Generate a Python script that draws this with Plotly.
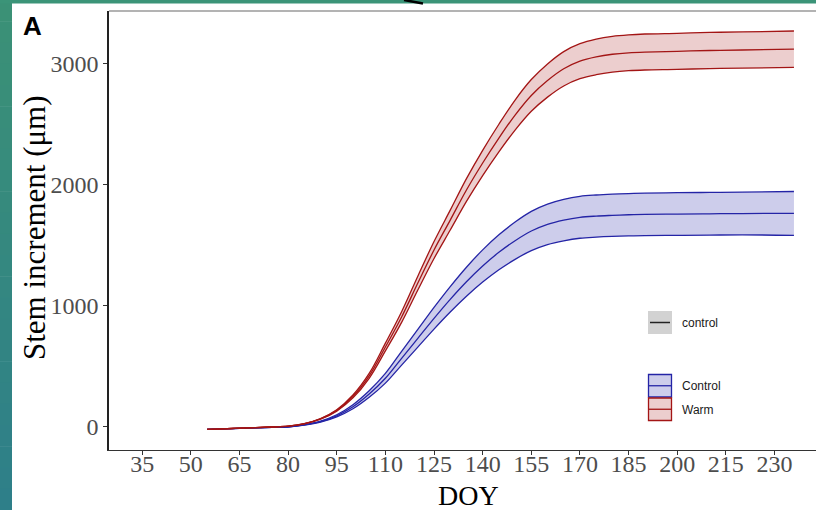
import plotly.graph_objects as go

# ---------------- data ----------------
doy = [55, 60, 65, 70, 75, 80, 85, 90, 95, 100, 105, 110, 115, 120, 125, 130,
       135, 140, 145, 150, 155, 160, 165, 170, 175, 180, 185, 190, 200, 210, 220, 236]

warm_mean = [-22, -17, -12, -7, -2, 5, 25, 65, 135, 250, 420, 658, 906, 1186, 1459, 1706,
             1954, 2177, 2383, 2573, 2735, 2858, 2955, 3018, 3053, 3075, 3087, 3093, 3099, 3106, 3110, 3118]
warm_upper = [-22, -17, -12, -7, -2, 5, 26, 68, 141, 262, 440, 690, 950, 1243, 1529, 1788,
              2048, 2282, 2497, 2697, 2866, 2995, 3097, 3162, 3200, 3223, 3235, 3242, 3248, 3255, 3259, 3267]
warm_lower = [-22, -17, -12, -7, -2, 5, 24, 62, 129, 238, 400, 626, 862, 1129, 1389, 1624,
              1860, 2073, 2269, 2449, 2604, 2721, 2813, 2873, 2906, 2927, 2939, 2945, 2950, 2957, 2961, 2966]

ctrl_mean = [-22, -18, -14, -10, -6, -1, 15, 42, 90, 165, 270, 400, 565, 730, 895, 1052,
             1197, 1327, 1440, 1536, 1616, 1671, 1706, 1729, 1739, 1745, 1750, 1753, 1756, 1758, 1760, 1762]
ctrl_upper = [-22, -18, -14, -10, -6, 0, 17, 47, 99, 182, 297, 440, 622, 803, 985, 1157,
              1317, 1460, 1584, 1690, 1778, 1838, 1877, 1902, 1913, 1920, 1925, 1928, 1932, 1934, 1936, 1942]
ctrl_lower = [-22, -18, -14, -10, -6, -2, 13, 38, 81, 148, 243, 360, 509, 657, 806, 947,
              1077, 1194, 1296, 1382, 1454, 1504, 1535, 1556, 1565, 1571, 1575, 1578, 1580, 1582, 1584, 1580]

x_ticks = [35, 50, 65, 80, 95, 110, 125, 140, 155, 170, 185, 200, 215, 230]
y_ticks = [0, 1000, 2000, 3000]

legend_a = ["control"]
legend_b = ["Control", "Warm"]

# ---------------- styles ----------------
RED = "#a31515"
RED_FILL = "rgba(170,30,30,0.22)"
BLUE = "#2424a6"
BLUE_FILL = "rgba(40,40,170,0.23)"

W, H = 816, 510
L, R, T, B = 109, 0, 11, 60
PW, PH = W - L - R, H - T - B


def px(x):
    return (x - L) / PW


def py(y):
    return (H - B - y) / PH


fig = go.Figure()


def band(lower, upper, mean, col, fill):
    fig.add_trace(go.Scatter(x=doy, y=lower, mode="lines", line=dict(color=col, width=1.3, shape="spline"),
                             showlegend=False, hoverinfo="skip"))
    fig.add_trace(go.Scatter(x=doy, y=upper, mode="lines", fill="tonexty", fillcolor=fill,
                             line=dict(color=col, width=1.3, shape="spline"), showlegend=False, hoverinfo="skip"))
    fig.add_trace(go.Scatter(x=doy, y=mean, mode="lines", line=dict(color=col, width=1.3, shape="spline"),
                             showlegend=False))


band(ctrl_lower, ctrl_upper, ctrl_mean, BLUE, BLUE_FILL)
band(warm_lower, warm_upper, warm_mean, RED, RED_FILL)

shapes = []
# teal background strips (screenshot frame)
top_c = (59, 145, 118)
bot_c = (46, 127, 137)
n = 24
for i in range(n):
    t = i / (n - 1)
    c = tuple(int(round(top_c[k] + (bot_c[k] - top_c[k]) * t)) for k in range(3))
    y0 = H * i / n
    y1 = H * (i + 1) / n + 0.5
    shapes.append(dict(type="rect", xref="paper", yref="paper", x0=px(0), x1=px(12), y0=py(y1), y1=py(y0),
                       fillcolor="rgb(%d,%d,%d)" % c, line=dict(width=0), layer="above"))
shapes.append(dict(type="rect", xref="paper", yref="paper", x0=px(0), x1=px(W), y0=py(3.5), y1=py(0),
                   fillcolor="rgb(59,148,120)", line=dict(width=0), layer="above"))
shapes.append(dict(type="line", xref="paper", yref="paper", x0=px(404), x1=px(423), y0=py(0), y1=py(3.5),
                   line=dict(color="black", width=2.5), layer="above"))
# top panel border
shapes.append(dict(type="line", xref="paper", yref="paper", x0=0, x1=1, y0=1, y1=1,
                   line=dict(color="#9a9a9a", width=1.5), layer="above"))

# legend keys
kx0, kx1 = 648, 672
shapes.append(dict(type="rect", xref="paper", yref="paper", x0=px(kx0), x1=px(kx1), y0=py(334), y1=py(311),
                   fillcolor="#d2d2d2", line=dict(width=0)))
shapes.append(dict(type="line", xref="paper", yref="paper", x0=px(650), x1=px(670), y0=py(322.5), y1=py(322.5),
                   line=dict(color="#222222", width=1.5)))
for (ya, yb, col, fill) in [(374, 397.5, BLUE, BLUE_FILL), (397.5, 421, RED, RED_FILL)]:
    shapes.append(dict(type="rect", xref="paper", yref="paper", x0=px(kx0 + 0.5), x1=px(kx1 - 0.5),
                       y0=py(yb - 0.5), y1=py(ya + 0.5), fillcolor=fill, line=dict(color=col, width=1.3)))
    shapes.append(dict(type="line", xref="paper", yref="paper", x0=px(kx0 + 1), x1=px(kx1 - 1),
                       y0=py((ya + yb) / 2), y1=py((ya + yb) / 2), line=dict(color=col, width=1.3)))

annotations = [
    dict(text="<b>A</b>", xref="paper", yref="paper", x=px(21), y=py(26), xanchor="left", yanchor="middle",
         showarrow=False, font=dict(family="Liberation Sans", size=26, color="black")),
    dict(text=legend_a[0], xref="paper", yref="paper", x=px(680), y=py(322.5), xanchor="left", yanchor="middle",
         showarrow=False, font=dict(family="Liberation Sans", size=12, color="#1a1a1a")),
    dict(text=legend_b[0], xref="paper", yref="paper", x=px(680), y=py(386), xanchor="left", yanchor="middle",
         showarrow=False, font=dict(family="Liberation Sans", size=12, color="#1a1a1a")),
    dict(text=legend_b[1], xref="paper", yref="paper", x=px(680), y=py(410), xanchor="left", yanchor="middle",
         showarrow=False, font=dict(family="Liberation Sans", size=12, color="#1a1a1a")),
    dict(text="Stem increment (μm)", xref="paper", yref="paper", x=px(35), y=py(228), textangle=-90,
         xanchor="center", yanchor="middle", showarrow=False,
         font=dict(family="Liberation Serif", size=31, color="black")),
    dict(text="DOY", xref="paper", yref="paper", x=px(468), y=py(495), xanchor="center", yanchor="middle",
         showarrow=False, font=dict(family="Liberation Serif", size=28, color="black")),
]

fig.update_layout(
    width=W, height=H,
    margin=dict(l=L, r=R, t=T, b=B),
    paper_bgcolor="white", plot_bgcolor="white",
    shapes=shapes, annotations=annotations,
    showlegend=False,
    xaxis=dict(range=[24.76, 242.8], tickvals=x_ticks, ticktext=[str(v) for v in x_ticks],
               showgrid=False, zeroline=False, showline=True, linecolor="#333333", linewidth=1.2,
               ticks="outside", ticklen=4, tickcolor="#333333", tickwidth=1, ticklabelstandoff=-12,
               tickfont=dict(family="Liberation Serif", size=24, color="#4d4d4d")),
    yaxis=dict(range=[-192, 3432], tickvals=y_ticks, ticktext=[str(v) for v in y_ticks],
               showgrid=False, zeroline=False, showline=True, linecolor="#222222", linewidth=1.5,
               ticks="outside", ticklen=4, tickcolor="#333333", tickwidth=1,
               tickfont=dict(family="Liberation Serif", size=24, color="#4d4d4d")),
)

fig.write_html("out.html")
